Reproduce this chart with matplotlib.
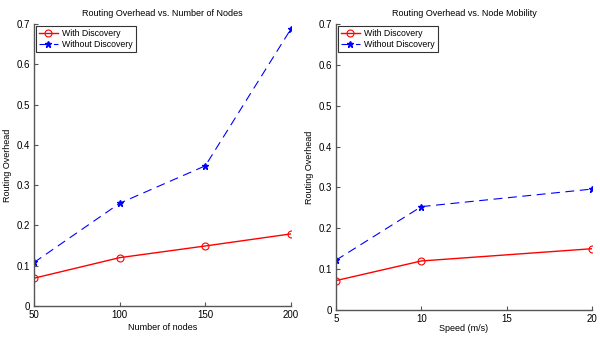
import matplotlib
matplotlib.use("Agg")
import matplotlib.pyplot as plt
from matplotlib import font_manager

names = {f.name for f in font_manager.fontManager.ttflist}
fam = "Liberation Sans Narrow" if "Liberation Sans Narrow" in names else "Liberation Sans"
plt.rcParams['font.family'] = [fam, 'DejaVu Sans']

nodes = [50, 100, 150, 200]
nodes_with = [0.069, 0.120, 0.149, 0.179]
nodes_without = [0.108, 0.255, 0.348, 0.688]

speed = [5, 10, 20]
speed_with = [0.072, 0.120, 0.150]
speed_without = [0.122, 0.253, 0.296]

labels = ["With Discovery", "Without Discovery"]

fig = plt.figure(figsize=(6.0, 3.39), dpi=100)
ax1 = fig.add_axes([34/600, 1-306/339, (291-34)/600, (306-24)/339])
ax2 = fig.add_axes([336/600, 1-310/339, (592-336)/600, (310-24)/339])

def style(ax):
    for s in ['top', 'right']:
        ax.spines[s].set_visible(False)
    for s in ['left', 'bottom']:
        ax.spines[s].set_color('#555555')
        ax.spines[s].set_linewidth(1.0)
    ax.tick_params(direction='in', length=3, labelsize=7, width=0.8, color='#555555')
    ax.tick_params(axis='y', pad=3)
    ax.tick_params(axis='x', pad=3)
    ax.set_ylim(0, 0.7)
    ax.set_yticks([0, 0.1, 0.2, 0.3, 0.4, 0.5, 0.6, 0.7])
    ax.set_yticklabels(['0', '0.1', '0.2', '0.3', '0.4', '0.5', '0.6', '0.7'])

def legend(ax):
    leg = ax.legend(loc='upper left', fontsize=6.3, frameon=True, fancybox=False, borderaxespad=0.2,
                    handlelength=2.2, borderpad=0.35, labelspacing=0.25, handletextpad=0.5)
    leg.get_frame().set_edgecolor('black')
    leg.get_frame().set_linewidth(0.8)

ax1.plot(nodes, nodes_with, color='red', marker='o', mfc='none', ms=5, mew=0.8, lw=1.0, label=labels[0])
ax1.plot(nodes, nodes_without, color='blue', marker='*', ms=4.5, lw=0.8, ls=(0, (8, 5)), label=labels[1])
ax1.set_xlim(50, 200)
ax1.set_xticks([50, 100, 150, 200])
style(ax1)
ax1.set_title("Routing Overhead vs. Number of Nodes", fontsize=6.5, pad=6)
ax1.set_xlabel("Number of nodes", fontsize=6.5, labelpad=2)
ax1.set_ylabel("Routing Overhead", fontsize=6.5, labelpad=3)
legend(ax1)

ax2.plot(speed, speed_with, color='red', marker='o', mfc='none', ms=5, mew=0.8, lw=1.0, label=labels[0])
ax2.plot(speed, speed_without, color='blue', marker='*', ms=4.5, lw=0.8, ls=(0, (8, 5)), label=labels[1])
ax2.set_xlim(5, 20)
ax2.set_xticks([5, 10, 15, 20])
style(ax2)
ax2.set_title("Routing Overhead vs. Node Mobility", fontsize=6.5, pad=6)
ax2.set_xlabel("Speed (m/s)", fontsize=6.5, labelpad=0)
ax2.set_ylabel("Routing Overhead", fontsize=6.5, labelpad=3)
legend(ax2)

fig.savefig("out.png", dpi=100)
